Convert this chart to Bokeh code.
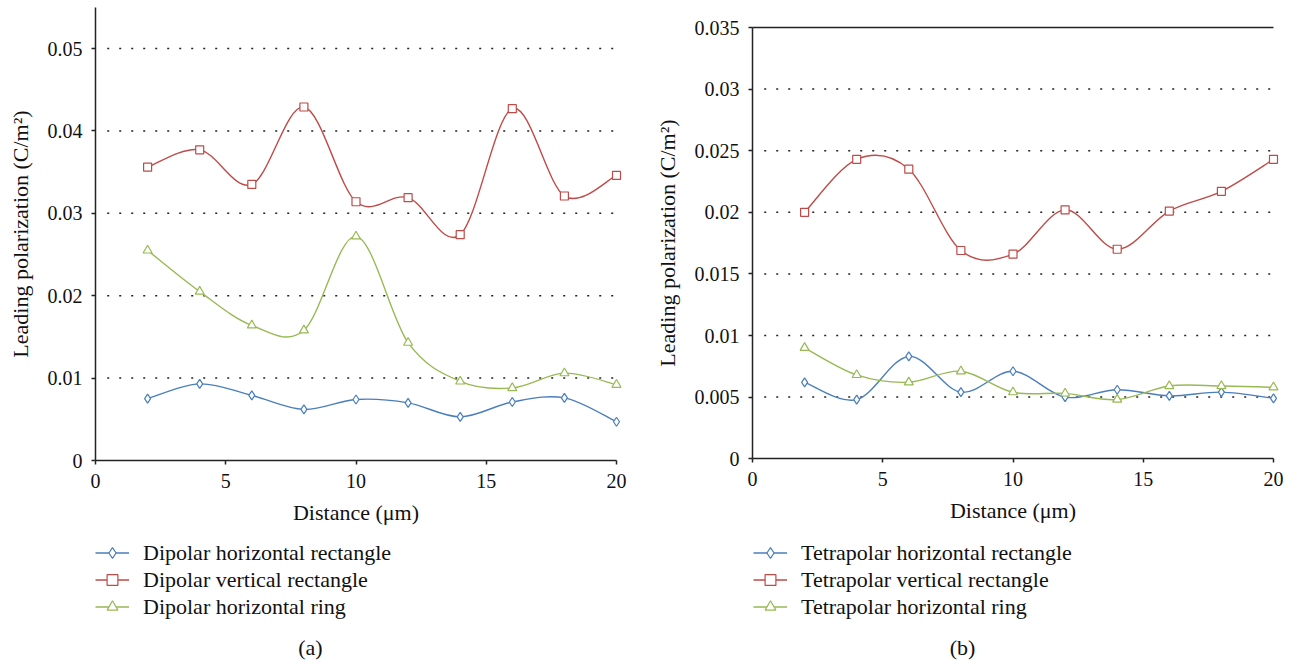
import numpy as np
from bokeh.plotting import figure
from bokeh.layouts import row
from bokeh.models import Range1d, FixedTicker, Legend, LegendItem, Label
from bokeh.embed import file_html
from bokeh.resources import INLINE

# ---------------- data ----------------
distance = [2, 4, 6, 8, 10, 12, 14, 16, 18, 20]

dipolar_h_rect = [0.0075, 0.0093, 0.0079, 0.0062, 0.0074, 0.0070, 0.0053, 0.0071, 0.0076, 0.0047]
dipolar_v_rect = [0.0356, 0.0377, 0.0335, 0.0429, 0.0314, 0.0319, 0.0274, 0.0427, 0.0321, 0.0346]
dipolar_h_ring = [0.0255, 0.0205, 0.0164, 0.0158, 0.0272, 0.0143, 0.0096, 0.0088, 0.0106, 0.0092]

tetra_h_rect = [0.0062, 0.0048, 0.0083, 0.0054, 0.0071, 0.0050, 0.0056, 0.0051, 0.0054, 0.0049]
tetra_v_rect = [0.0200, 0.0243, 0.0235, 0.0169, 0.0166, 0.0202, 0.0170, 0.0201, 0.0217, 0.0243]
tetra_h_ring = [0.0090, 0.0068, 0.0062, 0.0071, 0.0054, 0.0053, 0.0048, 0.0059, 0.0059, 0.0058]

labels_a = ["Dipolar horizontal rectangle", "Dipolar vertical rectangle", "Dipolar horizontal ring"]
labels_b = ["Tetrapolar horizontal rectangle", "Tetrapolar vertical rectangle", "Tetrapolar horizontal ring"]

x_ticks = [0, 5, 10, 15, 20]
y_ticks_a = [0, 0.01, 0.02, 0.03, 0.04, 0.05]
y_tick_labels_a = ["0", "0.01", "0.02", "0.03", "0.04", "0.05"]
y_ticks_b = [0, 0.005, 0.01, 0.015, 0.02, 0.025, 0.03, 0.035]
y_tick_labels_b = ["0", "0.005", "0.01", "0.015", "0.02", "0.025", "0.03", "0.035"]

# ---------------- style ----------------
FONT = "'Liberation Serif', 'Times New Roman', serif"
COLORS = ["#4A7EBB", "#BE4B48", "#98B954"]
MARKERS = ["diamond", "square", "triangle"]
MSIZE = [9, 8, 9]
X_MAX = 20


def smooth_segments(x, y):
    """Catmull-Rom style cubic Bezier segments through the data points."""
    x = np.asarray(x, float)
    y = np.asarray(y, float)
    xp = np.concatenate([[x[0]], x, [x[-1]]])
    yp = np.concatenate([[y[0]], y, [y[-1]]])
    i = np.arange(len(x) - 1)
    return dict(
        x0=xp[i + 1], y0=yp[i + 1], x1=xp[i + 2], y1=yp[i + 2],
        cx0=xp[i + 1] + (xp[i + 2] - xp[i]) / 6.0,
        cy0=yp[i + 1] + (yp[i + 2] - yp[i]) / 6.0,
        cx1=xp[i + 2] - (xp[i + 3] - xp[i + 1]) / 6.0,
        cy1=yp[i + 2] - (yp[i + 3] - yp[i + 1]) / 6.0,
    )


def make_panel(series, labels, width, x_lo, x_hi, y_lo, y_hi, axis_top, y_ticks, y_tick_labels,
               caption, caption_xy, legend_loc, top_line):
    p = figure(width=width, height=660, x_range=Range1d(x_lo, x_hi), y_range=Range1d(y_lo, y_hi),
               output_backend="svg", toolbar_location=None, min_border=0,
               min_border_left=0, min_border_right=0, min_border_top=0, min_border_bottom=0)
    p.title.visible = False
    p.outline_line_color = None
    p.background_fill_color = "white"
    p.border_fill_color = "white"
    p.xgrid.visible = False
    p.ygrid.visible = False

    # dotted horizontal gridlines at the tick values (not at 0), from near the axis to x = 20
    gt = y_ticks[1:]
    if top_line:
        gt = gt[:-1]
    p.segment(x0=[0.45] * len(gt), y0=gt, x1=[X_MAX] * len(gt), y1=gt,
              line_color="#222222", line_width=1.5, line_dash="2 10")
    if top_line:
        p.segment(x0=[0], y0=[axis_top], x1=[X_MAX], y1=[axis_top], line_color="#222222", line_width=1.5)

    p.xaxis.ticker = FixedTicker(ticks=x_ticks)
    p.xaxis.fixed_location = 0
    p.xaxis.bounds = (0, X_MAX)
    p.yaxis.ticker = FixedTicker(ticks=y_ticks)
    p.yaxis.fixed_location = 0
    p.yaxis.bounds = (0, axis_top)
    p.yaxis.major_label_overrides = {t: s for t, s in zip(y_ticks, y_tick_labels)}
    p.xaxis.axis_label = "Distance (μm)"
    p.yaxis.axis_label = "Leading polarization (C/m²)"
    for ax in (p.xaxis, p.yaxis):
        ax.axis_line_color = "#222222"
        ax.axis_line_width = 1.5
        ax.major_tick_line_color = "#222222"
        ax.major_tick_line_width = 1.5
        ax.major_tick_out = 4
        ax.major_tick_in = 0
        ax.minor_tick_line_color = None
        ax.major_label_text_font = FONT
        ax.major_label_text_font_size = "20px"
        ax.major_label_text_color = "#111111"
        ax.axis_label_text_font = FONT
        ax.axis_label_text_font_size = "22px"
        ax.axis_label_text_font_style = "normal"
        ax.axis_label_text_color = "#111111"
        ax.major_label_standoff = 9
    p.xaxis.axis_label_standoff = 9
    p.yaxis.axis_label_standoff = 12

    items = []
    for k, yv in enumerate(series):
        seg = smooth_segments(distance, yv)
        r_line = p.bezier(x0=seg["x0"], y0=seg["y0"], x1=seg["x1"], y1=seg["y1"],
                          cx0=seg["cx0"], cy0=seg["cy0"], cx1=seg["cx1"], cy1=seg["cy1"],
                          line_color=COLORS[k], line_width=1.4)
        r_mark = p.scatter(distance, yv, marker=MARKERS[k], size=MSIZE[k],
                           line_color=COLORS[k], fill_color="white", line_width=1.2)
        items.append(LegendItem(label=labels[k], renderers=[r_line, r_mark]))

    legend = Legend(items=items, location=legend_loc)
    legend.label_text_font = FONT
    legend.label_text_font_size = "22px"
    legend.label_text_color = "#111111"
    legend.glyph_width = 34
    legend.glyph_height = 27
    legend.label_height = 27
    legend.spacing = 0
    legend.padding = 0
    legend.margin = 0
    legend.label_standoff = 14
    legend.border_line_color = None
    legend.background_fill_alpha = 0
    p.add_layout(legend)

    p.add_layout(Label(x=caption_xy[0], y=caption_xy[1], text=caption,
                       text_align="center", text_baseline="middle",
                       text_font=FONT, text_font_size="22px", text_color="#111111"))
    return p


# panel (a): 26.05 px per unit of distance, axis x=0 at 95 px; 0.01 per 82.4 px, y=0 at 460 px
pa = make_panel([dipolar_h_rect, dipolar_v_rect, dipolar_h_ring], labels_a, 655,
                -95 / 26.05, 560 / 26.05, -200 / 8240, 460 / 8240, 0.055,
                y_ticks_a, y_tick_labels_a, "(a)", (8.25, -0.0227), (95, 40), False)
# panel (b): axis x=0 at 752 px (97 px into the panel); 0.005 per 61.6 px, y=0 at 458.2 px
pb = make_panel([tetra_h_rect, tetra_v_rect, tetra_h_ring], labels_b, 640,
                -97 / 26.05, 543 / 26.05, -201.8 / 12320, 458.2 / 12320, 0.035,
                y_ticks_b, y_tick_labels_b, "(b)", (8.06, -0.01532), (98, 40), True)

layout = row(pa, pb)
open("out.html", "w").write(file_html(layout, INLINE))
